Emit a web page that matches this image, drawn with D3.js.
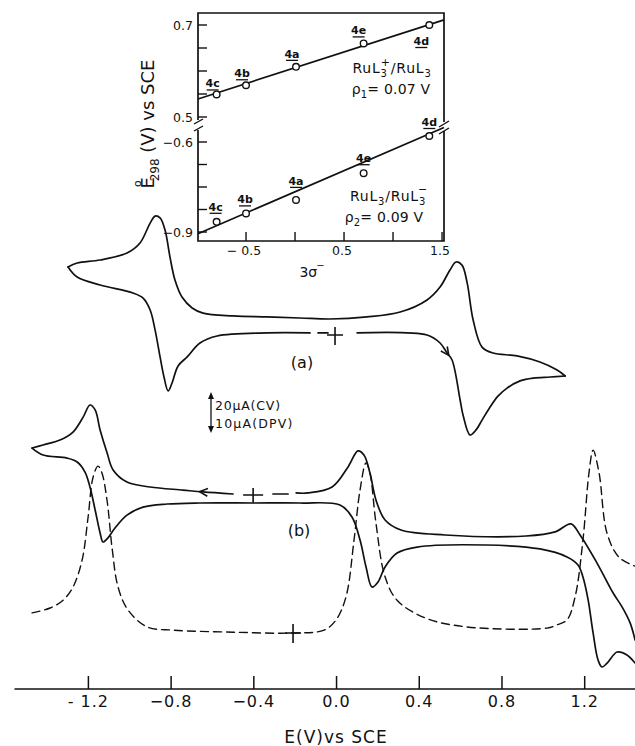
<!DOCTYPE html>
<html><head><meta charset="utf-8">
<script src="https://cdn.jsdelivr.net/npm/d3@7"></script>
<style>
body{margin:0;background:#fff;}
svg{display:block;font-family:"DejaVu Sans",sans-serif;}
</style></head><body>
<svg id="c" width="635" height="746"></svg>
<script>
// ---------------- inset data ----------------
const compounds = ["4c","4b","4a","4e","4d"];
const sigma3 = [-0.80,-0.50,0.01,0.70,1.37];
const eOx = [0.549,0.569,0.609,0.660,0.700];      // RuL3+/RuL3
const eRed = [-0.866,-0.838,-0.793,-0.704,-0.580]; // RuL3/RuL3-
const fitSlope = [0.0685, 0.141];
const fitIntercept = [0.607, -0.766];
const insetXTicks = [-0.5,0,0.5,1.0,1.5];
const insetXLabels = ["− 0.5","","0.5","","1.5"];
const insetUpperTicks = [0.5,0.55,0.6,0.65,0.7];
const insetUpperLabels = ["0.5","","","","0.7"];
const insetLowerTicks = [-0.9,-0.825,-0.75,-0.675,-0.6];
const insetLowerLabels = ["−0.9","","","","−0.6"];

// ---------------- main axis ----------------
const mainTicks = [-1.2,-0.8,-0.4,0,0.4,0.8,1.2];
const mainTickLabels = ["- 1.2","−0.8","−0.4","0.0","0.4","0.8","1.2"];

// ---------------- curves: [E (V), I (µA)] ----------------
const cvA_upper = [[-1.296,33.2],[-1.252,35.1],[-1.141,36.6],[-1.011,40.0],[-0.948,44.9],[-0.899,54.6],[-0.875,58.0],[-0.851,57.1],[-0.827,51.2],[-0.803,38.0],[-0.779,26.8],[-0.745,18.5],[-0.696,13.2],[-0.643,10.7],[-0.498,9.3],[-0.334,8.8],[-0.174,8.3],[-0.029,7.8],[0.150,8.8],[0.310,11.2],[0.440,17.1],[0.503,23.4],[0.551,31.7],[0.580,35.6],[0.609,34.1],[0.634,25.4],[0.663,7.3],[0.706,-5.9],[0.759,-8.8],[0.875,-10.2],[0.986,-13.2],[1.069,-17.1],[1.108,-20.0]];
const cvA_lowerLeft = [[-1.296,33.2],[-1.252,28.3],[-1.141,24.4],[-0.982,20.5],[-0.933,18.0],[-0.899,12.2],[-0.875,2.4],[-0.851,-10.7],[-0.832,-20.5],[-0.812,-27.3],[-0.793,-23.4],[-0.764,-15.1],[-0.720,-10.7],[-0.658,-3.9],[-0.575,-0.5],[-0.334,1.0],[-0.126,1.0]];
const cvA_lowerDash = [[-0.087,1.0],[-0.039,1.0]];
const cvA_lowerRight = [[0.102,1.0],[0.440,0.0],[0.503,-3.9],[0.537,-8.8],[0.561,-12.2],[0.600,-31.7],[0.614,-39.0],[0.648,-48.8],[0.677,-46.3],[0.706,-41.5],[0.745,-35.1],[0.783,-29.8],[0.827,-25.9],[0.890,-22.4],[0.953,-21.0],[1.035,-20.5],[1.108,-20.0]];

const cvB_upperLeft = [[-1.470,22.9],[-1.417,24.4],[-1.335,26.8],[-1.272,30.7],[-1.223,38.0],[-1.190,43.9],[-1.165,41.5],[-1.141,31.7],[-1.107,20.5],[-1.078,12.2],[-1.011,6.3],[-0.899,3.9],[-0.740,2.4],[-0.643,1.5],[-0.498,0.5]];
const cvB_upperDash = [[-0.305,0.5],[-0.232,0.5]];
const cvB_upperRight = [[-0.193,1.0],[-0.135,1.0],[-0.019,3.9],[0.058,13.7],[0.106,21.5],[0.135,19.5],[0.164,10.7],[0.193,-2.4],[0.237,-12.2],[0.314,-17.1],[0.527,-19.5],[0.919,-20.0],[1.059,-18.0],[1.136,-14.1],[1.180,-19.5],[1.262,-33.2],[1.340,-47.8],[1.383,-54.6],[1.422,-62.4],[1.446,-70.7]];
const cvB_lower = [[-1.470,22.9],[-1.417,19.5],[-1.301,18.0],[-1.252,16.1],[-1.214,11.2],[-1.190,3.9],[-1.165,-7.3],[-1.141,-18.5],[-1.127,-22.9],[-1.103,-20.9],[-1.069,-16.1],[-1.011,-9.8],[-0.933,-5.9],[-0.817,-4.4],[-0.658,-3.9],[-0.401,-3.9],[-0.174,-3.9],[0.019,-4.9],[0.077,-10.7],[0.116,-22.0],[0.145,-35.1],[0.174,-44.9],[0.203,-42.4],[0.237,-35.1],[0.295,-28.3],[0.392,-25.4],[0.725,-24.4],[0.986,-26.3],[1.117,-30.2],[1.170,-34.1],[1.194,-40.0],[1.219,-51.2],[1.243,-67.3],[1.267,-80.5],[1.286,-83.9],[1.311,-82.0],[1.359,-76.6],[1.407,-78.0],[1.446,-82.0]];

const dpvB = [[-1.470,4.9],[-1.383,6.1],[-1.320,8.0],[-1.272,11.2],[-1.228,17.8],[-1.199,28.3],[-1.175,38.0],[-1.151,40.7],[-1.132,39.0],[-1.107,32.2],[-1.083,20.7],[-1.054,11.2],[-1.006,5.6],[-0.914,1.5],[-0.788,0.7],[-0.498,0.2],[-0.208,0.0],[-0.058,0.7],[0.000,3.2],[0.048,8.8],[0.087,22.7],[0.116,34.9],[0.145,41.5],[0.164,39.0],[0.193,26.8],[0.237,13.7],[0.295,8.0],[0.430,3.7],[0.629,1.5],[1.020,1.2],[1.069,2.0],[1.117,3.2],[1.156,8.8],[1.194,22.7],[1.223,39.0],[1.243,44.6],[1.272,39.0],[1.310,24.4],[1.368,18.5],[1.446,16.3]];

// zero-current markers (E, I)
const zeroA = [-0.005, 0];
const zeroB = [-0.401, 0];
const zeroD = [-0.208, 0];
const scaleBar = {cv: 20, dpv: 10};

// ---------------- drawing ----------------
const svg = d3.select("#c");
const ink = "#111";

// main scales
const xM = d3.scaleLinear().domain([-1.2, 1.2]).range([87.9, 584.2]);
const yA = d3.scaleLinear().domain([0, 20]).range([335, 294]);
const yB = d3.scaleLinear().domain([0, 20]).range([495, 454]);
const yD = d3.scaleLinear().domain([0, 10]).range([633, 592]);
const axisExtent = [-1.555, 1.45];

function drawCurve(data, ys, opts = {}) {
  const line = d3.line().x(d => xM(d[0])).y(d => ys(d[1])).curve(d3.curveCatmullRom.alpha(0.5));
  svg.append("path").attr("d", line(data)).attr("fill", "none").attr("stroke", ink)
    .attr("stroke-width", opts.w || 1.7).attr("stroke-linejoin", "round").attr("stroke-linecap", "round")
    .attr("stroke-dasharray", opts.dash || null);
}
function interp(data, E) {
  for (let i = 0; i < data.length - 1; i++) {
    const a = data[i], b = data[i + 1];
    if ((E - a[0]) * (E - b[0]) <= 0) {
      const t = (E - a[0]) / (b[0] - a[0]);
      return [a, b, a[1] + t * (b[1] - a[1])];
    }
  }
}
function arrowOn(data, ys, E, dir) {
  const [a, b, I] = interp(data, E);
  const px = xM(E), py = ys(I);
  let dx = (xM(b[0]) - xM(a[0])) * dir, dy = (ys(b[1]) - ys(a[1])) * dir;
  const L = Math.hypot(dx, dy); dx /= L; dy /= L;
  const len = 9, ang = 0.45;
  const p = [];
  for (const s of [-1, 1]) {
    const c = Math.cos(s * ang), si = Math.sin(s * ang);
    const rx = -dx * c + dy * si, ry = -dx * si - dy * c;
    p.push([px + rx * len, py + ry * len]);
  }
  svg.append("path").attr("d", `M${p[0][0]},${p[0][1]}L${px},${py}L${p[1][0]},${p[1][1]}`)
    .attr("fill", "none").attr("stroke", ink).attr("stroke-width", 1.6).attr("stroke-linejoin", "miter");
}
function cross(z, ys, hw, vt, vb) {
  const cx = xM(z[0]), cy = ys(z[1]);
  svg.append("path").attr("d", `M${cx - hw},${cy}H${cx + hw}M${cx},${cy - vt}V${cy + vb}`)
    .attr("stroke", ink).attr("stroke-width", 1.6).attr("fill", "none");
}

// CV (a)
drawCurve(cvA_upper, yA);
drawCurve(cvA_lowerLeft, yA);
drawCurve(cvA_lowerDash, yA);
drawCurve(cvA_lowerRight, yA);
arrowOn(cvA_lowerRight, yA, 0.545, 1);
cross(zeroA, yA, 8, 8, 10);

// CV (b)
drawCurve(cvB_upperLeft, yB);
drawCurve(cvB_upperDash, yB);
drawCurve(cvB_upperRight, yB);
drawCurve(cvB_lower, yB);
arrowOn(cvB_upperLeft, yB, -0.66, -1);
cross(zeroB, yB, 10, 7, 8);

// DPV
drawCurve(dpvB, yD, {w: 1.4, dash: "8,5"});
cross(zeroD, yD, 8, 9, 10);

// labels
svg.append("text").attr("x", 302).attr("y", 368).attr("text-anchor", "middle").attr("font-size", 16).attr("fill", ink).text("(a)");
svg.append("text").attr("x", 299).attr("y", 536).attr("text-anchor", "middle").attr("font-size", 16).attr("fill", ink).text("(b)");

// scale bar
const sbX = 211, sbTop = 392;
const sbLen = yA(0) - yA(scaleBar.cv);
svg.append("line").attr("x1", sbX).attr("x2", sbX).attr("y1", sbTop + 4).attr("y2", sbTop + sbLen - 4).attr("stroke", ink).attr("stroke-width", 1.3);
svg.append("path").attr("d", `M${sbX},${sbTop}l-3,7h6z M${sbX},${sbTop + sbLen}l-3,-7h6z`).attr("fill", ink);
svg.append("text").attr("x", 215).attr("y", 410).attr("font-size", 12.5).attr("fill", ink).attr("letter-spacing", 0.8).text(`${scaleBar.cv}μA(CV)`);
svg.append("text").attr("x", 215).attr("y", 428).attr("font-size", 12.5).attr("fill", ink).attr("letter-spacing", 1.2).text(`${scaleBar.dpv}μA(DPV)`);

// main axis
const axY = 689;
svg.append("line").attr("x1", xM(axisExtent[0])).attr("x2", xM(axisExtent[1])).attr("y1", axY).attr("y2", axY).attr("stroke", ink).attr("stroke-width", 1.6);
const ax = svg.append("g").attr("transform", `translate(0,${axY})`)
  .call(d3.axisBottom(xM).tickValues(mainTicks).tickFormat((d, i) => mainTickLabels[i]).tickSizeInner(-13).tickSizeOuter(0).tickPadding(7));
ax.select(".domain").remove();
ax.selectAll(".tick line").attr("stroke", ink).attr("stroke-width", 1.5);
ax.selectAll(".tick text").attr("font-size", 16).attr("fill", ink).attr("font-family", "DejaVu Sans").attr("letter-spacing", 1);
svg.append("text").attr("x", xM(0)).attr("y", 743).attr("text-anchor", "middle").attr("font-size", 17).attr("letter-spacing", 1).attr("fill", ink).text("E(V)vs SCE");

// ---------------- inset ----------------
const ix = d3.scaleLinear().domain([-0.99, 1.52]).range([198, 444]);
const yU = d3.scaleLinear().domain([0.5, 0.7]).range([117, 25]);
const yL = d3.scaleLinear().domain([-0.9, -0.6]).range([232, 142]);
const boxT = 13, boxB = 241, boxL = ix.range()[0], boxR = ix.range()[1];
const fr = svg.append("g").attr("stroke", ink).attr("stroke-width", 1.7).attr("fill", "none");
fr.append("path").attr("d", `M${boxL},${boxT + 107}V${boxT}H${boxR}V${boxT + 109}`);
fr.append("path").attr("d", `M${boxL},${boxT + 117}V${boxB}H${boxR}V${boxT + 118}`);
fr.append("path").attr("d", `M${boxL - 4},${boxT + 111}l9,-5M${boxL - 4},${boxT + 118}l9,-5`).attr("stroke-width", 1.4);
fr.append("path").attr("d", `M${boxR - 5},${boxT + 114}l10,-6M${boxR - 5},${boxT + 121}l10,-6`).attr("stroke-width", 1.4);

// inset ticks
insetXTicks.forEach((t, i) => {
  svg.append("line").attr("x1", ix(t)).attr("x2", ix(t)).attr("y1", boxB).attr("y2", boxB - 9).attr("stroke", ink).attr("stroke-width", 1.4);
  if (insetXLabels[i]) svg.append("text").attr("x", ix(t) - 2).attr("y", 255).attr("text-anchor", "middle").attr("font-size", 12.5).attr("fill", ink).text(insetXLabels[i]);
});
[[insetUpperTicks, insetUpperLabels, yU], [insetLowerTicks, insetLowerLabels, yL]].forEach(([ticks, labs, ys]) => {
  ticks.forEach((t, i) => {
    svg.append("line").attr("x1", boxL).attr("x2", boxL + 9).attr("y1", ys(t)).attr("y2", ys(t)).attr("stroke", ink).attr("stroke-width", 1.4);
    if (labs[i]) svg.append("text").attr("x", boxL - 5).attr("y", ys(t) + 4.5).attr("text-anchor", "end").attr("font-size", 12.5).attr("fill", ink).text(labs[i]);
  });
});

// fit lines
const sigExt = ix.domain();
[[yU, 0], [yL, 1]].forEach(([ys, k]) => {
  svg.append("line").attr("x1", ix(sigExt[0])).attr("x2", ix(sigExt[1]))
    .attr("y1", ys(fitIntercept[k] + fitSlope[k] * sigExt[0])).attr("y2", ys(fitIntercept[k] + fitSlope[k] * sigExt[1]))
    .attr("stroke", ink).attr("stroke-width", 1.7);
});

// points & labels
const offU = [[-4, -7], [-4, -8], [-4, -9], [-5, -9], [-8, 20]];
const offL = [[-1, -11], [-1, -10], [0, -15], [0, -11], [0, -10]];
[[eOx, yU, offU], [eRed, yL, offL]].forEach(([vals, ys, off]) => {
  vals.forEach((v, i) => {
    const cx = ix(sigma3[i]), cy = ys(v);
    svg.append("circle").attr("cx", cx).attr("cy", cy).attr("r", 3.3).attr("fill", "#fff").attr("stroke", ink).attr("stroke-width", 1.4);
    const lx = cx + off[i][0], ly = cy + off[i][1];
    svg.append("text").attr("x", lx).attr("y", ly).attr("text-anchor", "middle").attr("font-size", 11).attr("font-weight", "bold").attr("fill", ink).text(compounds[i]);
    svg.append("line").attr("x1", lx - 6).attr("x2", lx + 6).attr("y1", ly + 2.5).attr("y2", ly + 2.5).attr("stroke", ink).attr("stroke-width", 1.3);
  });
});

// couple labels
function couple(x, y, parts, ls) {
  const t = svg.append("text").attr("x", x).attr("y", y).attr("text-anchor", "middle").attr("font-size", 14).attr("fill", ink).attr("letter-spacing", ls);
  parts.forEach(p => {
    const s = t.append("tspan").text(p.t);
    if (p.dy) s.attr("dy", p.dy);
    if (p.dx) s.attr("dx", p.dx);
    if (p.fs) s.attr("font-size", p.fs);
  });
}
couple(392, 73, [{t: "RuL"}, {t: "3", dy: 4, fs: 10}, {t: "+", dx: -7, dy: -11, fs: 11}, {t: "/RuL", dy: 7}, {t: "3", dy: 4, fs: 10}], 0.8);
couple(391, 94, [{t: "ρ"}, {t: "1", dy: 4, fs: 10}, {t: "= 0.07 V", dy: -4}], 0.2);
couple(389, 201, [{t: "RuL"}, {t: "3", dy: 4, fs: 10}, {t: "/RuL", dy: -4}, {t: "3", dy: 4, fs: 10}, {t: "−", dx: -8, dy: -12, fs: 11}], 0.8);
couple(384, 222, [{t: "ρ"}, {t: "2", dy: 4, fs: 10}, {t: "= 0.09 V", dy: -4}], 0.2);

// axis titles of the inset
svg.append("text").attr("x", 312).attr("y", 277).attr("text-anchor", "middle").attr("font-size", 14).attr("fill", ink)
  .call(t => { t.append("tspan").text("3σ"); t.append("tspan").attr("dx", -1).attr("dy", -8).attr("font-size", 10).text("−"); });
svg.append("text").attr("transform", "translate(154,124) rotate(-90)").attr("text-anchor", "middle").attr("font-size", 18).attr("fill", ink)
  .call(t => {
    t.append("tspan").text("E");
    t.append("tspan").attr("dx", -10).attr("dy", -13).attr("font-size", 11).text("o");
    t.append("tspan").attr("dx", -1).attr("dy", 18).attr("font-size", 12).text("298");
    t.append("tspan").attr("dy", -5).text(" (V) vs SCE");
  });
</script>
</body></html>
